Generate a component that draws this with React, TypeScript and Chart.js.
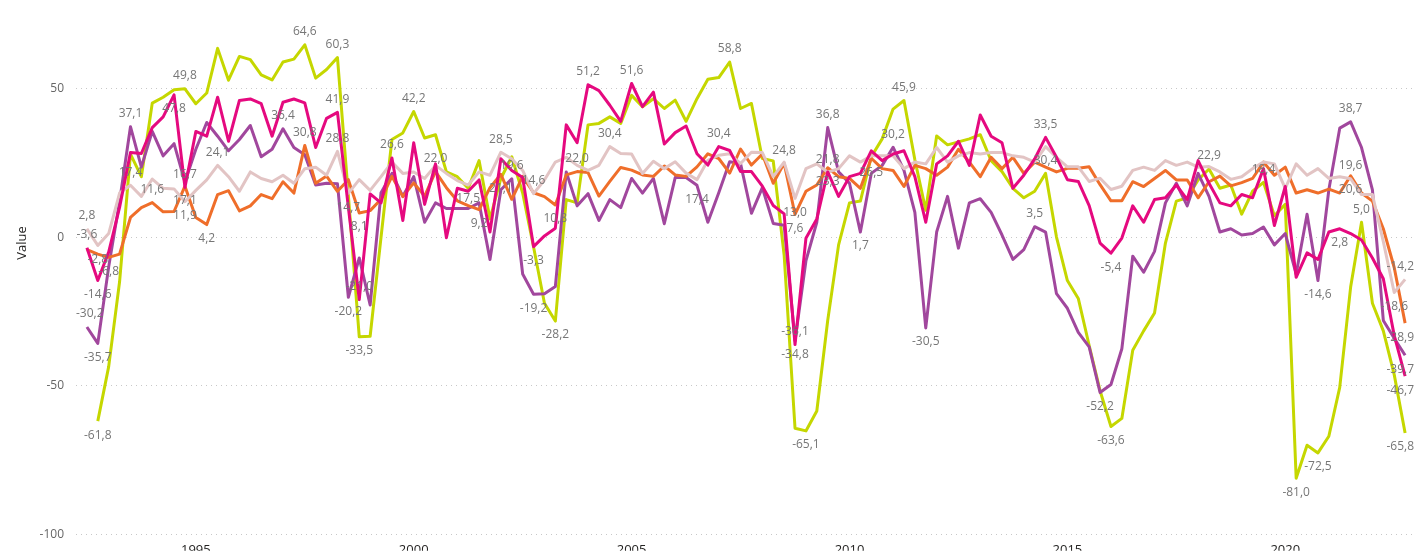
import React, { useEffect, useRef } from 'react';
import { Chart, registerables } from 'chart.js';

Chart.register(...registerables);

// Quarterly categories: 1992 Q3 .. 2022 Q4
const FIRST_YEAR = 1992;
const FIRST_QUARTER = 3;
const N_POINTS = 122;
const quarters: string[] = [];
for (let k = 0; k < N_POINTS; k++) {
  const q = FIRST_QUARTER - 1 + k;
  quarters.push(`${FIRST_YEAR + Math.floor(q / 4)} Q${(q % 4) + 1}`);
}

const yearTicks = ['1995', '2000', '2005', '2010', '2015', '2020'];
const yTicks = [-100, -50, 0, 50];

const seriesLime: (number | null)[] = [
  null, -61.8, -43.5, -15, 27.9, 20.3, 45, 47, 49.5, 49.8,
  44.8, 48.4, 63.4, 52.7, 60.7, 59.6, 54.5, 52.8, 58.8, 59.8,
  64.6, 53.4, 56.3, 60.3, 14, -33.5, -33.3, 0, 32.8, 35,
  42.2, 33.3, 34.4, 21.9, 20.3, 16.4, 25.7, 6.1, 19.7, 27,
  14.8, -3.3, -22.2, -28.2, 12.6, 11.5, 37.7, 38.2, 40.4, 38.2,
  47.6, 43.8, 46.5, 43.2, 46, 38.9, 46.5, 53, 53.6, 58.8,
  43.2, 44.9, 26.4, 25.6, -6, -64.2, -65.1, -58.4, -28, -2.6,
  11.5, 12.1, 27, 33, 43, 45.9, 26, 9, 34, 31,
  32, 33, 34.4, 25.7, 22, 16.4, 13.2, 15.4, 21.4, 0,
  -14.6, -20.6, -36.4, -51.6, -63.6, -60.9, -38, -31.5, -25.5, -2,
  12.1, 13.2, 19.2, 22.9, 16.4, 17.5, 7.7, 15.4, 18.4, 7.2,
  11, -81.0, -69.9, -72.5, -66.9, -50.5, -16.8, 5.0, -22.2, -31.5,
  -46.2, -65.8,
];

const seriesPink: number[] = [
  -3.6, -14.6, -5, 10, 28.4, 28.1, 36.8, 40.4, 47.8, 16.7,
  35.5, 33.9, 47, 32.2, 45.9, 46.4, 44.8, 33.9, 45.3, 46.4,
  45.1, 30.1, 39.9, 41.9, 10, -21.0, 14.5, 11.5, 26.6, 5.6,
  31.7, 11, 24.6, -0.2, 16.4, 15.4, 19.2, 1.7, 26.3, 22.4,
  20, -3.2, 0.4, 3, 37.7, 31.7, 51.2, 49.2, 44.3, 38.9,
  51.6, 43.8, 48.7, 31.3, 35.1, 37.3, 28, 24.2, 30.4, 29.1,
  22, 22, 17.1, 10.6, 7.8, -36.1, -0.4, 6.1, 21.9, 13.7,
  20.3, 21.4, 29, 25.7, 27.9, 29, 20.3, 5, 24.6, 27.3,
  32.2, 24.1, 41, 33.9, 31.7, 16.4, 20.8, 26.3, 33.5, 26.8,
  19.3, 18.7, 10.6, -2, -5.4, -0.3, 10.5, 5, 12.6, 13.2,
  17.5, 12.6, 25.7, 18.1, 11.5, 10.5, 14.3, 13.2, 23, 3.9,
  17, -13.5, -5.3, -7.5, 1.7, 2.8, 1.2, -1, -7, -14,
  -33, -46.7,
];

const seriesPurple: number[] = [
  -30.2, -35.7, -10, 12, 37.1, 23.5, 35.5, 27.3, 31.4, 18.5,
  29.5, 38.5, 33.9, 29, 32.8, 37.5, 27, 29.5, 36.4, 30.1,
  27.7, 17.5, 18.1, 17.9, -20.2, -7, -22.8, 14.9, 21.4, 13.7,
  20.3, 5, 11.5, 9.6, 9.6, 9.6, 11.5, -7.5, 15.9, 19.6,
  -12.4, -19.2, -19, -16.6, 21.9, 10.5, 14.6, 5.6, 12.6, 9.9,
  19.7, 14.8, 19.7, 4.5, 20, 20, 17.4, 5, 14.9, 25.3,
  24.7, 8, 16.6, 4.6, 4, -34.8, -8, 5, 36.8, 21.9,
  18.1, 1.7, 21.4, 24.1, 30.2, 22.4, 8.3, -30.5, 1.7, 13.7,
  -3.7, 11.5, 12.9, 8.3, 0.7, -7.5, -4.2, 3.5, 1.7, -19,
  -23.9, -32, -36.9, -52.2, -49.5, -37.5, -6.4, -11.8, -4.8, 11.5,
  18.1, 10.5, 21.4, 13.7, 1.7, 2.8, 0.7, 1.2, 3.4, -2.6,
  1.2, -12.4, 7.7, -14.6, 15.9, 36.6, 38.7, 30.1, 15.9, -28,
  -34, -39.7,
];

const seriesOrange: number[] = [
  -4.2, -5.7, -6.8, -5.7, 6.6, 9.9, 11.6, 8.5, 8.6, 17.1,
  6.6, 4.2, 14.3, 15.6, 8.8, 10.5, 14.3, 12.9, 18.6, 14.8,
  30.8, 18.1, 20.5, 15.4, 19.3, 8.1, 8.9, 12.7, 20.4, 13.6,
  18.2, 13.8, 22.0, 16.6, 12.2, 10.6, 9.2, 16.6, 21.1, 12.7,
  20.4, 14.9, 13.6, 10.8, 20.9, 22.0, 21.7, 13.8, 18.7, 23.4,
  22.5, 20.9, 20.4, 23.9, 20.9, 20.4, 23.6, 28, 26.4, 21.5,
  29.6, 24.2, 27.9, 18.1, 24.8, 7.6, 15.4, 17.5, 23.3, 20.3,
  19.7, 16.4, 26.5, 23, 22.4, 17, 24.1, 23, 20.8, 23.5,
  29.5, 25.2, 20.3, 26.8, 23, 26.8, 21.4, 25.2, 23.5, 21.9,
  23.1, 23.1, 23.6, 17.6, 12.2, 12.2, 18.6, 17, 19.7, 22.4,
  19.2, 19.2, 13.2, 18.6, 20.5, 17.2, 18.3, 19.7, 25.2, 20.8,
  23.5, 14.8, 15.9, 14.8, 16.1, 14.8, 20.6, 14.8, 12.1, 2.8,
  -10.2, -28.9,
];

const seriesBeige: number[] = [
  2.8, -2.8, 1.2, 14.8, 17.4, 13.7, 19.5, 16.4, 16.2, 11.9,
  15.7, 19.2, 24.1, 20.3, 15.4, 21.9, 19.7, 18.6, 20.8, 18.1,
  23, 23.5, 20.8, 28.8, 14.7, 19.3, 15.7, 20.3, 25.2, 21.4,
  21.9, 19.7, 24.1, 21.4, 19, 17.5, 21.9, 20.8, 28.5, 26.3,
  22.4, 14.6, 19.2, 25.2, 26.8, 24.1, 22.4, 24.1, 30.4, 28.1,
  27.9, 21.4, 25.5, 23, 25.3, 21.5, 19.3, 25.8, 27.5, 28,
  24.7, 28.5, 28.4, 20.3, 25.2, 13.0, 23, 24.6, 21.8, 23,
  27.3, 25.2, 27.3, 27.3, 27.3, 23, 25.2, 24.6, 30.1, 25.2,
  27.3, 28.4, 27.9, 28.4, 28.4, 27.3, 26.8, 25.2, 30.4, 26.8,
  23.6, 23.6, 18.7, 19.8, 16, 17.1, 22.4, 23.5, 22.4, 25.7,
  24.1, 25.2, 23.5, 23.7, 21.9, 19.4, 20.3, 23, 25.2, 24.6,
  16.4, 24.6, 20.8, 23, 19.7, 20.3, 19.6, 14.3, 14.3, -1.5,
  -18.6, -14.2,
];

const SERIES = [seriesLime, seriesPink, seriesPurple, seriesOrange, seriesBeige];
const COLORS = ['#C5D700', '#E5097F', '#A1479D', '#EF6E2A', '#E2C4C4'];
const DRAW_ORDER = [4, 0, 3, 2, 1];

type Lbl = { s: number; i: number; up: boolean };
const labelPoints: Lbl[] = [
  // lime
  { s: 0, i: 1, up: false }, { s: 0, i: 9, up: true }, { s: 0, i: 20, up: true },
  { s: 0, i: 23, up: true }, { s: 0, i: 25, up: false }, { s: 0, i: 30, up: true },
  { s: 0, i: 41, up: false }, { s: 0, i: 43, up: false }, { s: 0, i: 59, up: true },
  { s: 0, i: 66, up: false }, { s: 0, i: 75, up: true }, { s: 0, i: 94, up: false },
  { s: 0, i: 103, up: true }, { s: 0, i: 108, up: true }, { s: 0, i: 111, up: false },
  { s: 0, i: 113, up: false }, { s: 0, i: 117, up: true }, { s: 0, i: 121, up: false },
  // pink
  { s: 1, i: 0, up: true }, { s: 1, i: 1, up: false }, { s: 1, i: 8, up: false },
  { s: 1, i: 9, up: true }, { s: 1, i: 23, up: true }, { s: 1, i: 25, up: true },
  { s: 1, i: 28, up: true }, { s: 1, i: 46, up: true }, { s: 1, i: 50, up: true },
  { s: 1, i: 58, up: true }, { s: 1, i: 65, up: true }, { s: 1, i: 88, up: true },
  { s: 1, i: 94, up: false }, { s: 1, i: 115, up: false }, { s: 1, i: 121, up: false },
  // purple
  { s: 2, i: 0, up: true }, { s: 2, i: 1, up: false }, { s: 2, i: 4, up: true },
  { s: 2, i: 18, up: true }, { s: 2, i: 24, up: false }, { s: 2, i: 39, up: true },
  { s: 2, i: 41, up: false }, { s: 2, i: 56, up: false }, { s: 2, i: 65, up: false },
  { s: 2, i: 68, up: true }, { s: 2, i: 71, up: false }, { s: 2, i: 74, up: true },
  { s: 2, i: 77, up: false }, { s: 2, i: 87, up: true }, { s: 2, i: 93, up: false },
  { s: 2, i: 113, up: false }, { s: 2, i: 116, up: true }, { s: 2, i: 121, up: false },
  // orange
  { s: 3, i: 2, up: false }, { s: 3, i: 6, up: true }, { s: 3, i: 9, up: false },
  { s: 3, i: 11, up: false }, { s: 3, i: 20, up: true }, { s: 3, i: 25, up: false },
  { s: 3, i: 32, up: true }, { s: 3, i: 36, up: false }, { s: 3, i: 38, up: false },
  { s: 3, i: 43, up: false }, { s: 3, i: 45, up: true }, { s: 3, i: 64, up: true },
  { s: 3, i: 65, up: false }, { s: 3, i: 68, up: false }, { s: 3, i: 72, up: false },
  { s: 3, i: 116, up: false }, { s: 3, i: 121, up: false },
  // beige
  { s: 4, i: 0, up: true }, { s: 4, i: 1, up: false }, { s: 4, i: 4, up: true },
  { s: 4, i: 9, up: false }, { s: 4, i: 12, up: true }, { s: 4, i: 23, up: true },
  { s: 4, i: 24, up: false }, { s: 4, i: 35, up: false }, { s: 4, i: 38, up: true },
  { s: 4, i: 41, up: true }, { s: 4, i: 48, up: true }, { s: 4, i: 65, up: false },
  { s: 4, i: 68, up: true }, { s: 4, i: 88, up: false }, { s: 4, i: 116, up: true },
  { s: 4, i: 120, up: false }, { s: 4, i: 121, up: true },
];

const FONT = '"Open Sans", "Noto Sans", sans-serif';

function fmt(v: number): string {
  return v.toFixed(1).replace('.', ',');
}

const labelPlugin = {
  id: 'pbiLabels',
  afterDatasetsDraw(chart: any) {
    const ctx: CanvasRenderingContext2D = chart.ctx;
    const area = chart.chartArea;
    ctx.save();
    ctx.font = `12px ${FONT}`;
    ctx.fillStyle = '#767676';
    ctx.textAlign = 'center';
    ctx.textBaseline = 'middle';
    for (const lp of labelPoints) {
      const el = chart.getDatasetMeta(lp.s).data[lp.i];
      const v = SERIES[lp.s][lp.i];
      if (!el || v === null || v === undefined) continue;
      const text = fmt(v as number);
      const w = ctx.measureText(text).width;
      let x = el.x;
      x = Math.min(x, area.right - w / 2 - 2);
      x = Math.max(x, area.left + w / 2);
      const y = el.y + (lp.up ? -13 : 14);
      ctx.fillText(text, x, y);
    }
    ctx.restore();

    ctx.save();
    ctx.translate(22, 243);
    ctx.rotate(-Math.PI / 2);
    ctx.font = `13px ${FONT}`;
    ctx.fillStyle = '#252423';
    ctx.textAlign = 'center';
    ctx.textBaseline = 'middle';
    ctx.fillText('Value', 0, 0);
    ctx.restore();
  },
};

export default function App() {
  const ref = useRef<HTMLCanvasElement | null>(null);

  useEffect(() => {
    document.body.style.margin = '0';
    if (!ref.current) return;
    const datasets = SERIES.map((s, k) => ({
      label: `S${k + 1}`,
      data: s.map((v, i) => ({ x: i, y: v })),
      borderColor: COLORS[k],
      backgroundColor: COLORS[k],
      borderWidth: 3,
      pointRadius: 0,
      pointHoverRadius: 0,
      tension: 0,
      spanGaps: false,
      order: DRAW_ORDER[k],
      borderJoinStyle: 'round' as const,
    }));

    const chart = new Chart(ref.current, {
      type: 'line',
      data: { datasets },
      plugins: [labelPlugin],
      options: {
        responsive: false,
        animation: false,
        parsing: true,
        layout: { padding: { top: 8, left: 0, right: 0, bottom: 0 } },
        plugins: {
          legend: { display: false },
          tooltip: { enabled: false },
        },
        scales: {
          x: {
            type: 'linear',
            min: -1,
            max: 122,
            grid: { display: false, drawTicks: false },
            border: { display: false },
            afterBuildTicks: (axis: any) => {
              axis.ticks = yearTicks.map((y) => ({ value: quarters.indexOf(`${y} Q1`) }));
            },
            afterFit: (scale: any) => {
              scale.height = 16;
            },
            ticks: {
              autoSkip: false,
              maxRotation: 0,
              padding: 8,
              color: '#252423',
              font: { family: FONT, size: 13 },
              callback: (value: any) => {
                const q = quarters[Number(value)];
                return q ? q.slice(0, 4) : '';
              },
            },
          },
          y: {
            type: 'linear',
            min: -100,
            max: 73.2,
            afterBuildTicks: (axis: any) => {
              axis.ticks = yTicks.map((v) => ({ value: v }));
            },
            afterFit: (scale: any) => {
              scale.width = 76;
            },
            grid: { color: '#C8C8C8', lineWidth: 1, drawTicks: false },
            border: { display: false, dash: [1, 4] },
            ticks: {
              padding: 12,
              color: '#666666',
              font: { family: FONT, size: 12 },
              callback: (value: any) => String(value),
            },
          },
        },
      },
    });
    return () => chart.destroy();
  }, []);

  return (
    <div style={{ width: 1416, height: 554, position: 'relative' }}>
      <canvas ref={ref} width={1416} height={554} style={{ display: 'block' }} />
    </div>
  );
}
